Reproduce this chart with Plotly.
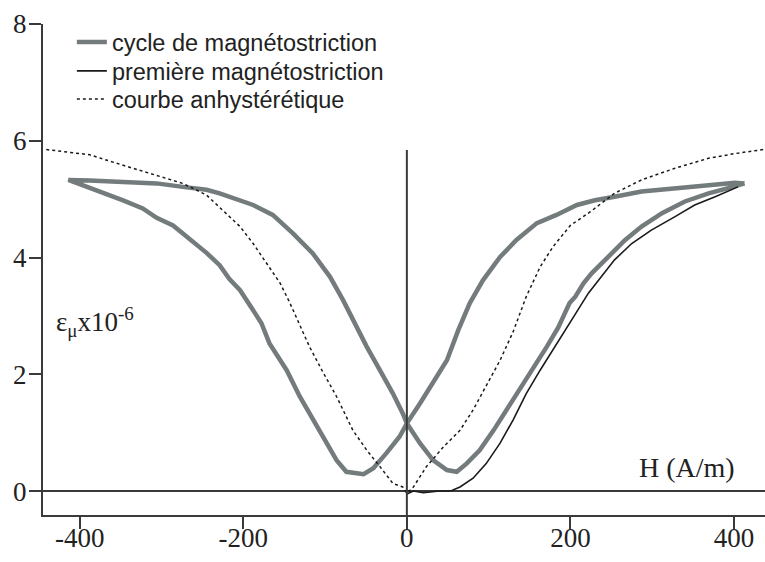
import plotly.graph_objects as go

# cycle de magnétostriction (one closed butterfly loop)
cycle_h = [413, 401, 369, 328, 287, 254, 230, 208, 183, 159, 134, 114, 93, 77, 63, 49, 32, 16, 0,
           -9, -25, -41, -53, -62, -74, -86, -98, -115, -131, -147, -168, -178, -204, -217, -229,
           -245, -265, -286, -306, -323, -347, -367, -396, -414,
           -388, -347, -306, -274, -245, -229, -212, -188, -164, -139, -115, -94, -78, -64,
           -49, -33, -17, -5, 0,
           16, 32, 49, 61, 73, 89, 106, 122, 138, 155, 171, 185, 199, 206, 216, 226, 246, 267,
           287, 312, 340, 369, 393, 409, 413]
cycle_e = [5.27, 5.28, 5.24, 5.19, 5.13, 5.04, 4.98, 4.90, 4.73, 4.59, 4.30, 4.01, 3.61, 3.22, 2.76,
           2.24, 1.84, 1.50, 1.16,
           0.93, 0.65, 0.39, 0.29, 0.30, 0.33, 0.53, 0.82, 1.22, 1.62, 2.07, 2.53, 2.88, 3.44, 3.63,
           3.87, 4.08, 4.31, 4.55, 4.68, 4.84, 4.98, 5.09, 5.24, 5.33,
           5.32, 5.30, 5.27, 5.21, 5.16, 5.10, 5.02, 4.90, 4.73, 4.41, 4.07, 3.67, 3.27, 2.88,
           2.47, 2.07, 1.67, 1.33, 1.16,
           0.82, 0.53, 0.36, 0.33, 0.47, 0.70, 1.04, 1.39, 1.73, 2.13, 2.47, 2.80, 3.22, 3.33,
           3.56, 3.73, 4.01, 4.30, 4.53, 4.76, 4.96, 5.10, 5.19, 5.24, 5.27]

# première magnétostriction
first_h = [0, 8, 20, 32, 40, 49, 55, 65, 81, 97, 114, 130, 146, 163, 179, 195, 206, 222, 238,
           254, 275, 299, 328, 352, 377, 405]
first_e = [-0.05, 0.0, -0.03, -0.01, 0.0, 0.0, 0.01, 0.07, 0.22, 0.47, 0.82, 1.22, 1.67, 2.07,
           2.42, 2.79, 3.03, 3.39, 3.67, 3.96, 4.24, 4.47, 4.70, 4.90, 5.04, 5.21]

# courbe anhystérétique
anhy_h = [-441, -388, -347, -306, -274, -245, -229, -219, -204, -188, -172, -155, -143, -131,
          -119, -102, -86, -66, -49, -33, -17, -5, 0, 8, 24, 45, 65, 81, 97, 114, 130, 146, 163,
          179, 200, 212, 224, 254, 287, 328, 369, 401, 436]
anhy_e = [5.85, 5.76, 5.58, 5.41, 5.27, 5.07, 4.86, 4.73, 4.53, 4.24, 3.90, 3.56, 3.22, 2.83,
          2.47, 2.02, 1.62, 1.04, 0.70, 0.42, 0.13, 0.07, -0.04, 0.07, 0.42, 0.76, 1.04, 1.39,
          1.79, 2.24, 2.73, 3.33, 3.84, 4.19, 4.55, 4.67, 4.78, 5.10, 5.33, 5.53, 5.70, 5.78, 5.85]

x_ticks = [-400, -200, 0, 200, 400]
x_labels = ["-400", "-200", "0", "200", "400"]
y_ticks = [0, 2, 4, 6, 8]

axis_col = "#3a3a3a"
serif = "Liberation Serif"
leg_font = dict(family="Liberation Sans", size=23.5, color="#222")

fig = go.Figure()
fig.add_trace(go.Scatter(x=cycle_h, y=cycle_e, mode="lines", name="cycle de magnétostriction",
                         line=dict(color="#737b7c", width=4.5), legend="legend"))
fig.add_trace(go.Scatter(x=first_h, y=first_e, mode="lines", name="première magnétostriction",
                         line=dict(color="#1a1a1a", width=1.6), legend="legend2"))
fig.add_trace(go.Scatter(x=anhy_h, y=anhy_e, mode="lines", name="courbe anhystérétique",
                         line=dict(color="#1a1a1a", width=1.5, dash="3px,3px"), legend="legend3"))

# vertical axis line at H = 0
fig.add_shape(type="line", xref="x", yref="y", x0=0, x1=0, y0=-0.41, y1=5.84,
              line=dict(color=axis_col, width=2))

fig.add_annotation(x=0.961, y=0.40, xref="paper", yref="y", text="H (A/m)", showarrow=False,
                   xanchor="right", yanchor="middle", font=dict(family=serif, size=28, color="#222"))
fig.add_annotation(x=-432, y=2.9, xref="x", yref="y", text="ε<sub>μ</sub>x10<sup>-6</sup>",
                   showarrow=False, xanchor="left", yanchor="middle",
                   font=dict(family=serif, size=27, color="#222"))

fig.update_xaxes(range=[-445, 438], tickvals=x_ticks, ticktext=x_labels, ticks="outside",
                 ticklen=12, tickwidth=2, tickcolor=axis_col, showline=True, linecolor=axis_col,
                 linewidth=2, showgrid=False, zeroline=False, automargin=False,
                 ticklabelstandoff=-14,
                 tickfont=dict(family=serif, size=27, color="#222"))
fig.update_yaxes(range=[-0.41, 8], tickvals=y_ticks, ticks="outside", ticklen=12, tickwidth=2,
                 tickcolor=axis_col, showline=True, linecolor=axis_col, linewidth=2,
                 showgrid=False, zeroline=True, zerolinecolor=axis_col, zerolinewidth=2,
                 automargin=False, ticklabelstandoff=-3,
                 tickfont=dict(family=serif, size=27, color="#222"))

leg = dict(x=0.040, xanchor="left", yanchor="middle", bgcolor="rgba(0,0,0,0)", font=leg_font)
fig.update_layout(width=765, height=562, margin=dict(l=43, r=0, t=24, b=47),
                  plot_bgcolor="white", paper_bgcolor="white", showlegend=True,
                  legend=dict(leg, y=0.963),
                  legend2=dict(leg, y=0.904),
                  legend3=dict(leg, y=0.847))

fig.write_html("out.html", config={"displayModeBar": False},
               post_script="document.body.style.margin='0';")
